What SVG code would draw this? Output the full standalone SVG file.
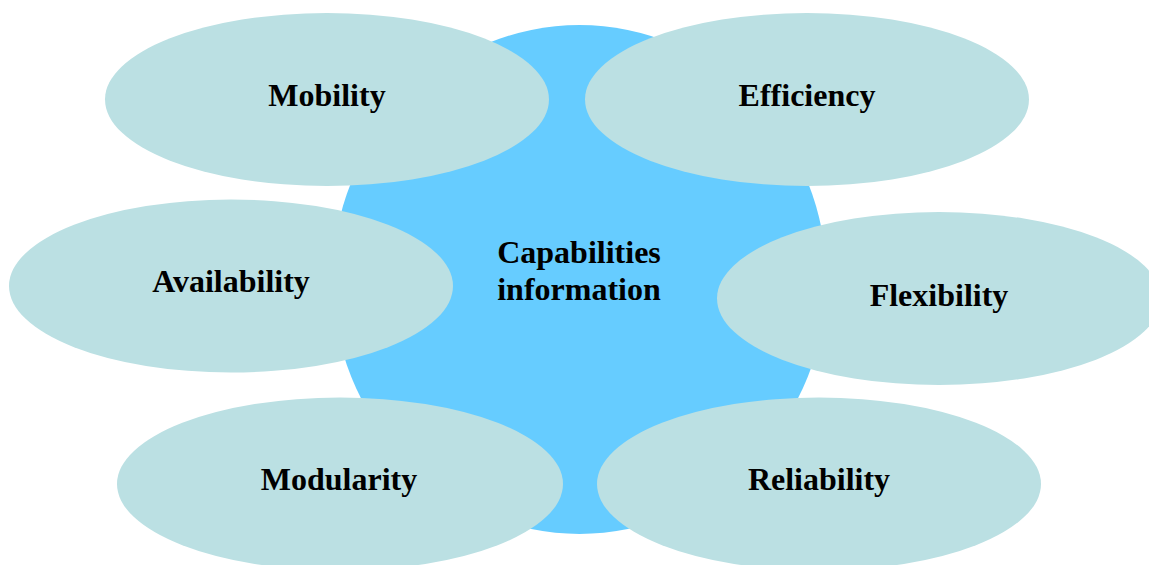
<svg xmlns="http://www.w3.org/2000/svg" width="1149" height="565" viewBox="0 0 1149 565">
<style>
.petal{fill:#BBE0E3}
.core{fill:#66CCFF}
text{font-family:"Liberation Serif","Times New Roman",serif;font-weight:bold;font-size:32px;fill:#000;text-anchor:middle}
</style>
<rect width="1149" height="565" fill="#fff"/>
<g id="connectors"></g>
<g id="center"><ellipse class="core" cx="579.5" cy="279.5" rx="247" ry="254.5"/>
<text x="579" y="263">Capabilities</text><text x="579" y="300">information</text></g>
<g id="mobility"><ellipse class="petal" cx="327" cy="99.5" rx="222" ry="86.5"/><text x="327" y="106">Mobility</text></g>
<g id="efficiency"><ellipse class="petal" cx="807" cy="99.5" rx="222" ry="86.5"/><text x="807" y="106">Efficiency</text></g>
<g id="availability"><ellipse class="petal" cx="231" cy="286" rx="222" ry="86.5"/><text x="231" y="292">Availability</text></g>
<g id="flexibility"><ellipse class="petal" cx="939" cy="298.5" rx="222" ry="86.5"/><text x="939" y="306">Flexibility</text></g>
<g id="modularity"><ellipse class="petal" cx="340" cy="484" rx="223" ry="86.5"/><text x="339" y="490">Modularity</text></g>
<g id="reliability"><ellipse class="petal" cx="819" cy="484" rx="222" ry="86.5"/><text x="819" y="490">Reliability</text></g>
</svg>
